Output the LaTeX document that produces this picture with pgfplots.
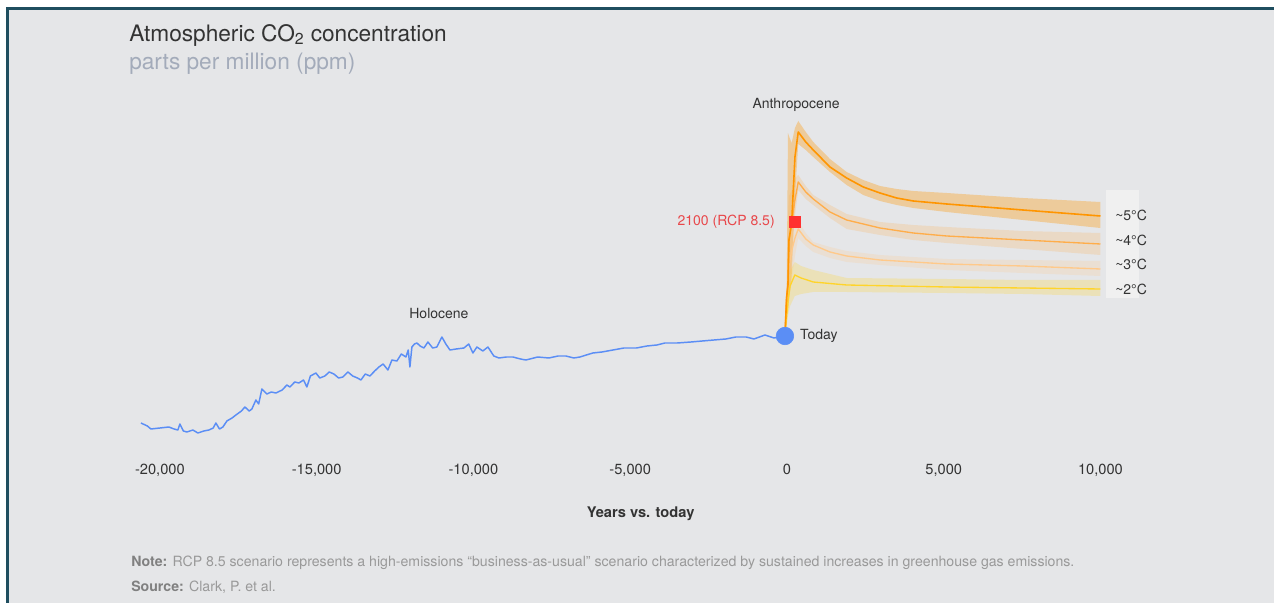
\documentclass[border=0pt]{standalone}
\usepackage{fontspec}
\setmainfont{TeX Gyre Heros}
\usepackage{pgfplots}
\usepackage{pgfplotstable}
\pgfplotsset{compat=1.18}
\usepgfplotslibrary{fillbetween}

\definecolor{bg}{HTML}{E5E6E8}
\definecolor{frame}{HTML}{1F4E5F}
\definecolor{txt}{HTML}{333333}
\definecolor{subt}{HTML}{A3ABBA}
\definecolor{notec}{HTML}{999999}
\definecolor{blueline}{HTML}{5B8EF5}
\definecolor{cfive}{HTML}{FF9500}
\definecolor{cfour}{HTML}{FFAD4A}
\definecolor{cthree}{HTML}{FFC98A}
\definecolor{ctwo}{HTML}{FFD42A}
\definecolor{rcp}{HTML}{FF3030}
\definecolor{rcptxt}{HTML}{E8474A}
\definecolor{labbox}{HTML}{F0F0F0}

% year, central path, lower and upper edge of the band
\pgfplotstableread{
yr mid lo hi
-64 280 280 280
-10 319 300 320
32 331 305 483
64 376 315 480
150 393 340 473
255 459 420 488
360 484 472 495
600 474 466 484
839 466 459 474
1372 449 444 457
1904 438 431 444
2434 429 421 436
2967 423 415 430
3499 418 411 427
4029 415 408 425
5094 412 404 423
7528 406 396 418
10000 400 388 414
}\tfive

\pgfplotstableread{
yr mid lo hi
-64 280 280 280
-10 319 300 320
32 331 305 400
64 376 320 420
150 393 360 425
255 416 400 438
360 434 426 441
600 424 417 430
839 417 411 421
1372 404 398 411
1904 396 387 402
2967 388 381 394
4029 383 376 391
5094 380 373 389
7528 376 367 385
10000 372 361 383
}\tfour

\pgfplotstableread{
yr mid lo hi
-64 280 280 280
-10 319 300 320
32 331 305 370
64 350 315 385
150 365 335 390
255 378 360 393
360 387 378 395
600 377 370 383
839 371 364 374
1372 364 358 369
1904 360 354 365
2967 356 351 361
5094 352 346 357
7528 350 343 356
10000 347 340 355
}\tthree

\pgfplotstableread{
yr mid lo hi
-64 280 280 280
-10 300 290 315
32 315 300 330
100 330 310 345
250 341 320 354
450 338 322 350
839 334 324 346
1904 331 324 338
5094 329 323 337
7528 328 322 336
10000 327 320 336
}\ttwo

\pgfplotstableread{
yr ppm
-20607 193
-20400 190
-20288 187
-20000 188
-19714 189
-19550 187
-19427 186
-19363 192
-19250 185
-19140 184
-18950 186
-18789 183
-18600 185
-18438 186
-18300 188
-18215 193
-18100 187
-17992 189
-17864 195
-17700 198
-17577 201
-17400 205
-17290 209
-17150 205
-17067 207
-16939 216
-16850 212
-16748 227
-16588 222
-16450 224
-16301 223
-16100 226
-15950 231
-15854 229
-15700 234
-15567 233
-15420 236
-15312 229
-15200 240
-15025 243
-14900 238
-14738 240
-14600 244
-14451 242
-14300 238
-14164 239
-14004 244
-13850 240
-13700 238
-13589 236
-13450 242
-13302 240
-13150 245
-13015 249
-12880 252
-12728 246
-12600 256
-12441 255
-12300 262
-12154 259
-12080 266
-12026 249
-11963 269
-11880 272
-11803 273
-11700 270
-11580 268
-11452 274
-11300 268
-11165 269
-11006 279
-10880 272
-10750 266
-10550 267
-10304 268
-10150 272
-10017 263
-9889 269
-9700 265
-9538 269
-9350 260
-9187 258
-8950 259
-8741 259
-8500 257
-8326 256
-7950 259
-7592 258
-7300 260
-7050 260
-6800 258
-6603 259
-6400 261
-6189 263
-5902 264
-5550 266
-5200 268
-4800 268
-4466 270
-4150 271
-3892 273
-3500 273
-3062 274
-2700 275
-2329 276
-1950 277
-1627 279
-1300 279
-1053 277
-702 281
-415 278
-64 280
}\tice

\begin{document}
\begin{tikzpicture}
\fill[white] (0,0) rectangle (955.5pt,452.25pt);
\fill[frame] (4.5pt,0) rectangle (955.5pt,447pt);
\fill[bg] (6.75pt,0) rectangle (955.5pt,444.75pt);

\node[anchor=base west, inner sep=0pt, text=txt, font=\fontsize{17}{20}\selectfont]
  at (96.75pt,421.1pt) {Atmospheric CO\textsubscript{2} concentration};
\node[anchor=base west, inner sep=0pt, text=subt, font=\fontsize{17}{20}\selectfont]
  at (96.75pt,400.3pt) {parts per million (ppm)};

\node[anchor=base west, inner sep=0pt, text=notec, font=\fontsize{10.6}{12}\selectfont]
  at (98.25pt,27pt) {\textcolor{gray}{\bfseries Note:} RCP 8.5 scenario represents a high-emissions “business-as-usual” scenario characterized by sustained increases in greenhouse gas emissions.};
\node[anchor=base west, inner sep=0pt, text=notec, font=\fontsize{10.6}{12}\selectfont]
  at (98.25pt,8.25pt) {\textcolor{gray}{\bfseries Source:} Clark, P. et al.};

\begin{axis}[
  at={(103.95pt,114.75pt)}, anchor=south west,
  scale only axis, width=721.4pt, height=270pt,
  xmin=-20680, xmax=10000, ymin=166, ymax=526,
  axis x line=bottom, axis y line=none,
  axis line style={draw=txt, line width=1.1pt, -},
  xtick={-20000,-15000,...,10000},
  scaled x ticks=false,
  major tick length=0pt,
  /pgf/number format/1000 sep={,},
  /pgf/number format/assume math mode=true,
  xticklabel style={text=txt, font=\fontsize{11}{13}\selectfont, yshift=-7pt},
  xlabel={\bfseries Years vs. today},
  xlabel style={at={(axis description cs:0.522,0)}, anchor=center, yshift=-47.5pt,
    text=txt, font=\fontsize{11}{13}\selectfont},
  clip=false,
]
% uncertainty bands
\addplot[name path=h5, draw=none] table[x=yr,y=hi]{\tfive};
\addplot[name path=l5, draw=none] table[x=yr,y=lo]{\tfive};
\addplot[fill=cfive, fill opacity=0.33, draw=none] fill between[of=h5 and l5, on layer=main];
\addplot[name path=h4, draw=none] table[x=yr,y=hi]{\tfour};
\addplot[name path=l4, draw=none] table[x=yr,y=lo]{\tfour};
\addplot[fill=cfour, fill opacity=0.22, draw=none] fill between[of=h4 and l4, on layer=main];
\addplot[name path=h3, draw=none] table[x=yr,y=hi]{\tthree};
\addplot[name path=l3, draw=none] table[x=yr,y=lo]{\tthree};
\addplot[fill=cthree, fill opacity=0.22, draw=none] fill between[of=h3 and l3, on layer=main];
\addplot[name path=h2, draw=none] table[x=yr,y=hi]{\ttwo};
\addplot[name path=l2, draw=none] table[x=yr,y=lo]{\ttwo};
\addplot[fill=ctwo, fill opacity=0.25, draw=none] fill between[of=h2 and l2, on layer=main];

% central paths
\addplot[cthree, line width=1pt, line join=round] table[x=yr,y=mid]{\tthree};
\addplot[cfour, line width=1pt, line join=round] table[x=yr,y=mid]{\tfour};
\addplot[ctwo, line width=1pt, line join=round] table[x=yr,y=mid]{\ttwo};
\addplot[cfive, line width=1.2pt, line join=round] table[x=yr,y=mid]{\tfive};

% ice core record
\addplot[blueline, line width=1.1pt, line join=round] table[x=yr,y=ppm]{\tice};

\addplot[blueline, only marks, mark=*, mark size=6.6pt, mark options={fill=blueline, draw=blueline}] coordinates {(-64,280)};
\addplot[rcp, only marks, mark=square*, mark size=4.1pt, mark options={fill=rcp, draw=rcp}] coordinates {(246,394)};

\fill[labbox] (axis cs:10176,426) rectangle (axis cs:11229,318);
\begin{scope}[every node/.style={text=txt, font=\fontsize{10.5}{12}\selectfont, inner sep=0pt}]
\node[anchor=west] at (axis cs:10463,401) {\textasciitilde5°C};
\node[anchor=west] at (axis cs:10463,376) {\textasciitilde4°C};
\node[anchor=west] at (axis cs:10463,352) {\textasciitilde3°C};
\node[anchor=west] at (axis cs:10463,327) {\textasciitilde2°C};
\node at (axis cs:290,511) {Anthropocene};
\node at (axis cs:-11100,302) {Holocene};
\node[anchor=west] at (axis cs:415,280) {Today};
\node[anchor=east, text=rcptxt] at (axis cs:-383,394) {2100 (RCP 8.5)};
\end{scope}
\end{axis}
\end{tikzpicture}
\end{document}
